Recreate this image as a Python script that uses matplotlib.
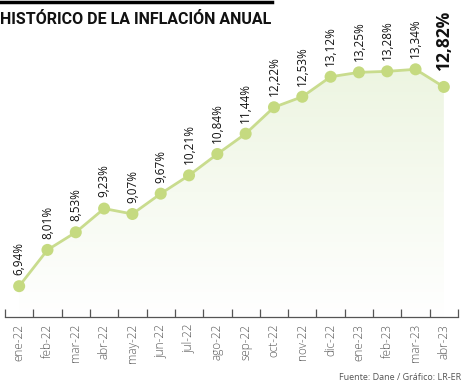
import matplotlib
matplotlib.use("Agg")
import matplotlib.pyplot as plt
import numpy as np
from matplotlib.patches import Polygon
from matplotlib.colors import LinearSegmentedColormap

months = ["ene-22", "feb-22", "mar-22", "abr-22", "may-22", "jun-22", "jul-22", "ago-22",
          "sep-22", "oct-22", "nov-22", "dic-22", "ene-23", "feb-23", "mar-23", "abr-23"]
inflation = [6.94, 8.01, 8.53, 9.23, 9.07, 9.67, 10.21, 10.84,
             11.44, 12.22, 12.53, 13.12, 13.25, 13.28, 13.34, 12.82]
title = "HISTÓRICO DE LA INFLACIÓN ANUAL"
source = "Fuente: Dane / Gráfico: LR-ER"

W, H = 463, 386
fig = plt.figure(figsize=(W / 100, H / 100), dpi=100)
plt.rcParams['font.family'] = ['Open Sans', 'DejaVu Sans']

def fx(px):
    return px / W

def fy(py):
    return 1 - py / H

ax = fig.add_axes([fx(5), fy(317), fx(458) - fx(5), fy(30) - fy(317)])
x = np.arange(len(months))
ymin, ymax = 6.03, 14.50
ax.set_xlim(-0.5, len(months) - 0.5)
ax.set_ylim(ymin, ymax)

line_c = "#c9dc8e"
marker_c = "#c5da80"

# gradient fill under the line
grad = np.linspace(0, 1, 256).reshape(-1, 1)
cmap = LinearSegmentedColormap.from_list("g", ["#ffffff", "#edf5e1"])
im = ax.imshow(grad, extent=[0, len(months) - 1, ymin, 13.4], origin="lower",
               aspect="auto", cmap=cmap, zorder=1)
poly_pts = [(x[0], ymin)] + list(zip(x, inflation)) + [(x[-1], ymin)]
poly = Polygon(poly_pts, closed=True, facecolor="none", edgecolor="none")
ax.add_patch(poly)
im.set_clip_path(poly)

ax.plot(x, inflation, color=line_c, lw=2, zorder=2)
ax.scatter(x, inflation, s=75, color=marker_c, zorder=3, edgecolors="none")

for i, v in enumerate(inflation):
    lab = f"{v:.2f}".replace(".", ",") + "%"
    if i == len(inflation) - 1:
        ax.annotate(lab, (i, v), xytext=(0, 12), textcoords="offset points",
                    rotation=90, ha="center", va="bottom", fontsize=12.5,
                    fontweight="bold", color="#111111")
    else:
        ax.annotate(lab, (i, v), xytext=(0, 8), textcoords="offset points",
                    rotation=90, ha="center", va="bottom", fontsize=8.5,
                    color="#111111")

for s in ["top", "right", "left"]:
    ax.spines[s].set_visible(False)
ax.spines["bottom"].set_color("#555555")
ax.spines["bottom"].set_linewidth(0.9)
ax.set_yticks([])
ax.set_xticks(np.arange(-0.5, len(months), 1.0), minor=False)
ax.set_xticklabels([])
ax.tick_params(axis="x", which="major", direction="in", length=6, width=0.9, color="#555555")
ax.set_xticks(x, minor=True)
ax.set_xticklabels(months, minor=True, rotation=90, fontsize=8.5, color="#555555",
                   fontweight="light")
ax.tick_params(axis="x", which="minor", length=0, pad=5)
ax.patch.set_alpha(0)

# top bar and title
fig.add_artist(plt.Line2D([0, fx(272)], [fy(1.5), fy(1.5)], color="black", lw=2.5,
                          transform=fig.transFigure))
fig.text(fx(0), fy(20), title, ha="left", va="center", fontsize=11.5,
         fontweight="bold", color="#111111", family=["Roboto", "DejaVu Sans"])
fig.text(fx(461), fy(377), source, ha="right", va="center", fontsize=6.5, color="#555555")

fig.savefig("out.png", dpi=100)
